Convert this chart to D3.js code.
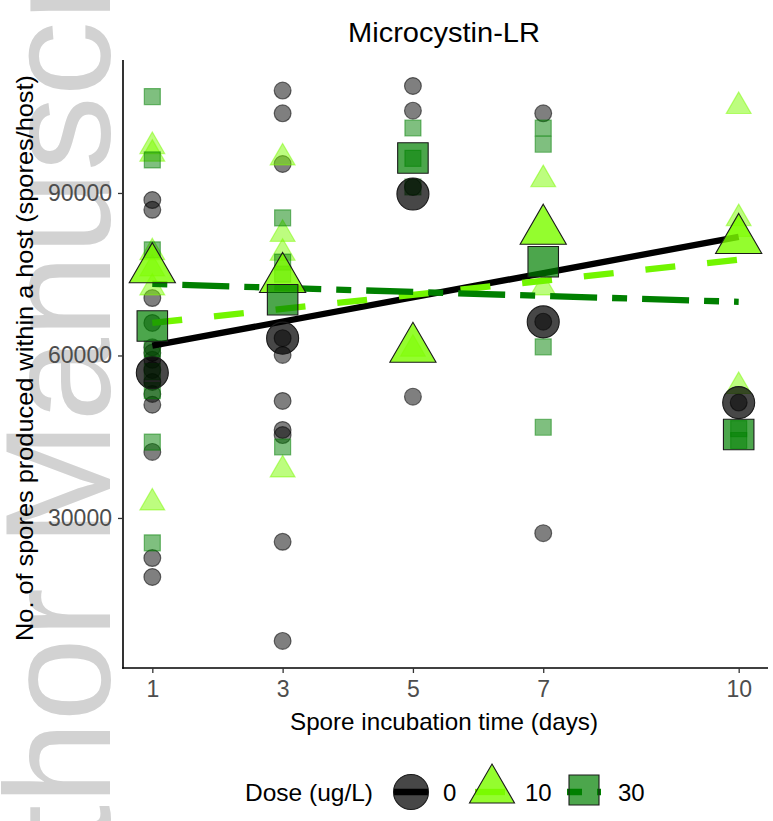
<!DOCTYPE html>
<html><head><meta charset="utf-8">
<script src="https://cdn.jsdelivr.net/npm/d3@7"></script>
<style>
body{margin:0;background:#fff}
svg{display:block}
text{font-family:"Liberation Sans",Arial,sans-serif}
</style>
</head><body>
<svg id="c" width="773" height="821"></svg>
<script>
// ---------- data ----------
const dayTicks = [1, 3, 5, 7, 10];
const valueTicks = [30000, 60000, 90000];
const doseLabels = ["0", "10", "30"];
const chartTitle = "Microcystin-LR";
const xTitle = "Spore incubation time (days)";
const yTitle = "No. of spores produced within a host (spores/host)";
const legendTitle = "Dose (ug/L)";
const watermark = "Author Manuscript";

// individual hosts: [day, spores]
const dose0Points = [
  [1, 88700], [1, 86900], [1, 70600], [1, 66000], [1, 61500], [1, 60500], [1, 59200],
  [1, 57300], [1, 55100], [1, 52900], [1, 50900], [1, 42200], [1, 22600], [1, 19100],
  [3, 108900], [3, 104700], [3, 95350], [3, 63200], [3, 60100], [3, 51600], [3, 46250],
  [3, 45300], [3, 25600], [3, 7300],
  [5, 109750], [5, 105200], [5, 91100], [5, 52400],
  [7, 104700], [7, 66240], [7, 27200],
  [10, 51300]
];
const dose10Points = [
  [1, 98600], [1, 97200], [1, 79000], [1, 76000], [1, 72500], [1, 32800],
  [3, 96500], [3, 82400], [3, 78900], [3, 38900],
  [5, 61200],
  [7, 92500], [7, 72500],
  [10, 106000], [10, 85300], [10, 83300], [10, 54300]
];
const dose30Points = [
  [1, 107800], [1, 96100], [1, 79500], [1, 61200], [1, 57000], [1, 53500], [1, 44000], [1, 25400],
  [3, 85400], [3, 77250], [3, 75000], [3, 43100],
  [5, 102000], [5, 96400], [5, 91100],
  [7, 102000], [7, 99000], [7, 61600], [7, 46750],
  [10, 46500], [10, 44300]
];

// group means by day
const meanDays = [1, 3, 5, 7, 10];
const dose0Means = [56800, 63200, 89800, 66200, 51300];
const dose10Means = [75900, 74100, 61200, 83000, 81300];
const dose30Means = [65450, 70300, 96460, 77300, 45400];

// linear fits: values at day 1 and day 10
const fitDays = [1, 10];
const dose0Fit = [61800, 81900];
const dose10Fit = [66000, 77700];
const dose30Fit = [73200, 69900];

// ---------- drawing ----------
const svg = d3.select("#c");
const M = {left: 123, right: 768, top: 60, bottom: 668};

const x = d3.scaleLinear().domain([0.55, 10.45]).range([M.left, M.right]);
const y = d3.scaleLinear().domain([2300, 114550]).range([M.bottom, M.top]);

// watermark
svg.append("text")
  .attr("transform", "translate(110,1030) rotate(-90)")
  .attr("font-size", 150)
  .attr("fill", "#d2d2d2")
  .text(watermark);

const series = [
  {label: doseLabels[0], pts: dose0Points, means: dose0Means, fit: dose0Fit,
   sym: d3.symbolCircle, smallSize: Math.PI * 8.4 * 8.4, bigSize: Math.PI * 16 * 16,
   color: "#000000", smallFill: 0.5, smallStroke: "#000", smallStrokeOp: 0.55, bigFill: 0.72,
   line: "#000000", dash: null},
  {label: doseLabels[1], pts: dose10Points, means: dose10Means, fit: dose10Fit,
   sym: d3.symbolTriangle, smallSize: 21.5 * 21.5 * Math.sqrt(3) / 3, bigSize: 40 * 40 * Math.sqrt(3) / 3,
   color: "#7CFC00", smallFill: 0.5, smallStroke: "#7CFC00", smallStrokeOp: 0.5, bigFill: 0.82,
   line: "#72F500", dash: "30,32"},
  {label: doseLabels[2], pts: dose30Points, means: dose30Means, fit: dose30Fit,
   sym: d3.symbolSquare, smallSize: 16 * 16, bigSize: 30.5 * 30.5,
   color: "#008000", smallFill: 0.5, smallStroke: "#008000", smallStrokeOp: 0.5, bigFill: 0.7,
   line: "#008000", dash: "15,15,47,15"}
];

// raw points
const gPts = svg.append("g");
series.forEach(s => {
  gPts.selectAll(null).data(s.pts).join("path")
    .attr("transform", d => `translate(${x(d[0])},${y(d[1])})`)
    .attr("d", d3.symbol().type(s.sym).size(s.smallSize)())
    .attr("fill", s.color).attr("fill-opacity", s.smallFill)
    .attr("stroke", s.smallStroke).attr("stroke-opacity", s.smallStrokeOp)
    .attr("stroke-width", 1.2);
});

// fit lines
const lineGen = d3.line().x(d => x(d[0])).y(d => y(d[1]));
series.forEach(s => {
  svg.append("path")
    .attr("d", lineGen(fitDays.map((d, i) => [d, s.fit[i]])))
    .attr("fill", "none").attr("stroke", s.line).attr("stroke-width", 6.3)
    .attr("stroke-dasharray", s.dash).attr("stroke-linecap", "butt");
});

// means
series.forEach(s => {
  svg.append("g").selectAll(null).data(meanDays.map((d, i) => [d, s.means[i]])).join("path")
    .attr("transform", d => `translate(${x(d[0])},${y(d[1])})`)
    .attr("d", d3.symbol().type(s.sym).size(s.bigSize)())
    .attr("fill", s.color).attr("fill-opacity", s.bigFill)
    .attr("stroke", "#1a1a1a").attr("stroke-width", 1.1);
});

// axes
const yAxis = svg.append("g").attr("transform", `translate(${M.left},0)`)
  .call(d3.axisLeft(y).tickValues(valueTicks).tickFormat(d3.format("d")).tickSize(5).tickSizeOuter(0).tickPadding(6));
const xAxis = svg.append("g").attr("transform", `translate(0,${M.bottom})`)
  .call(d3.axisBottom(x).tickValues(dayTicks).tickFormat(d3.format("d")).tickSize(5).tickSizeOuter(0).tickPadding(8));
[yAxis, xAxis].forEach(a => {
  a.select(".domain").attr("stroke", "#000").attr("stroke-width", 1.6);
  a.selectAll(".tick line").attr("stroke", "#333").attr("stroke-width", 1.3);
  a.selectAll(".tick text").attr("fill", "#4D4D4D").attr("font-size", 23)
    .attr("font-family", "Liberation Sans, Arial, sans-serif");
});
yAxis.select(".domain").attr("d", `M0,${M.top}V${M.bottom + 0.8}`);
xAxis.select(".domain").attr("d", `M${M.left - 0.8},0H${M.right}`);

// titles
svg.append("text").attr("x", 444).attr("y", 42).attr("text-anchor", "middle")
  .attr("font-size", 28).attr("fill", "#000").attr("textLength", 192)
  .attr("lengthAdjust", "spacingAndGlyphs").text(chartTitle);
svg.append("text").attr("x", 444).attr("y", 730).attr("text-anchor", "middle")
  .attr("font-size", 24).attr("fill", "#000").attr("textLength", 308)
  .attr("lengthAdjust", "spacingAndGlyphs").text(xTitle);
svg.append("text").attr("transform", "translate(33,358) rotate(-90)").attr("text-anchor", "middle")
  .attr("font-size", 24.5).attr("fill", "#000").attr("textLength", 566)
  .attr("lengthAdjust", "spacingAndGlyphs").text(yTitle);

// legend
const lg = svg.append("g");
const ly = 792;
lg.append("text").attr("x", 245).attr("y", ly + 8.5).attr("font-size", 24)
  .attr("textLength", 128).attr("lengthAdjust", "spacingAndGlyphs").text(legendTitle);
const keyX = [411, 492, 584];
const labX = [443, 525, 618];
const keySize = [Math.PI * 17.5 * 17.5, 39 * 39 * Math.sqrt(3) / 3, 30 * 30];
const keyCy = [ly, ly - 2, ly - 2];
series.forEach((s, i) => {
  lg.append("path")
    .attr("d", `M${keyX[i] - 17},${ly}H${keyX[i] + 17}`)
    .attr("stroke", s.line).attr("stroke-width", 6.3).attr("fill", "none")
    .attr("stroke-dasharray", s.dash);
  lg.append("path")
    .attr("transform", `translate(${keyX[i]},${keyCy[i]})`)
    .attr("d", d3.symbol().type(s.sym).size(keySize[i])())
    .attr("fill", s.color).attr("fill-opacity", s.bigFill)
    .attr("stroke", "#1a1a1a").attr("stroke-width", 1.1);
  lg.append("text").attr("x", labX[i]).attr("y", ly + 8.5).attr("font-size", 24)
    .text(s.label);
});
</script>
</body></html>
